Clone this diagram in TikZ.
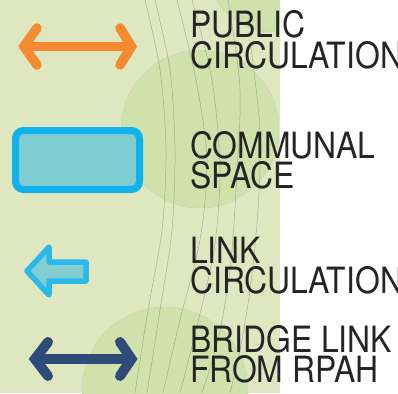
\documentclass[tikz,border=0pt]{standalone}
\usepackage{fontspec}
\newfontfamily\labfont[FakeStretch=0.88]{TeX Gyre Heros}
\definecolor{bggreen}{RGB}{223,231,192}
\definecolor{circgreen}{RGB}{208,225,172}
\definecolor{contour}{RGB}{150,160,135}
\definecolor{pubor}{RGB}{246,138,48}
\definecolor{commstroke}{RGB}{16,178,236}
\definecolor{commfill}{RGB}{127,205,208}
\definecolor{linkstroke}{RGB}{42,185,232}
\definecolor{linkfill}{RGB}{131,205,208}
\definecolor{bridgeblue}{RGB}{47,75,120}
\definecolor{txtcol}{RGB}{38,35,36}
\tikzset{
  legtext/.style={anchor=base west, inner sep=0pt, text=txtcol,
    font=\labfont\fontsize{36.2}{36}\selectfont},
  chevline/.style={line width=#1, line cap=round, line join=miter},
  contourline/.style={draw=contour, line width=0.5pt, opacity=0.8},
  blob/.style={fill=circgreen, draw=contour!60, line width=0.4pt, draw opacity=0.5}
}
\begin{document}
\begin{tikzpicture}[x=1pt,y=-1pt]
\useasboundingbox (0,0) rectangle (398,393);
\clip (0,0) rectangle (398,393);
% background
\fill[white] (0,0) rectangle (398,393);
\fill[bggreen] (0,0) rectangle (280,393);
\begin{scope}
\clip (0,0) rectangle (280,393);
\path[blob] (200,129) circle (79);
\path[blob] (165,390) circle (83);
\path[blob] (272,-32) circle (64);
\draw[contourline] plot[smooth] coordinates {(145,0) (160,70) (166,150) (162,230) (148,310) (135,393)};
\draw[contourline] plot[smooth] coordinates {(155,0) (170,70) (175,150) (172,230) (160,310) (147,393)};
\draw[contourline] plot[smooth] coordinates {(177,0) (196,80) (207,160) (200,240) (180,320) (163,393)};
\draw[contourline] plot[smooth] coordinates {(192,0) (212,80) (220,170) (214,250) (196,330) (180,393)};
\draw[contourline] plot[smooth] coordinates {(228,0) (240,90) (236,190) (230,270) (218,340) (202,393)};
\draw[contourline] plot[smooth] coordinates {(250,40) (260,130) (258,210) (250,290) (240,350) (230,393)};
\end{scope}
% public circulation arrow
\coordinate (pL) at (24,46.5);
\coordinate (pLa) at (37,28);
\coordinate (pLb) at (37,65);
\coordinate (pR) at (131.5,46.5);
\coordinate (pRa) at (120,28);
\coordinate (pRb) at (120,65);
\draw[pubor, chevline=9.5pt] (pLa) -- (pL) -- (pLb);
\draw[pubor, chevline=9.5pt] (pRa) -- (pR) -- (pRb);
\draw[pubor, line width=9.5pt] (pL) -- (pR);
% communal space box
\draw[commstroke, fill=commfill, line width=7pt, rounded corners=8pt] (15.5,130.5) rectangle (139.5,189.5);
% link circulation arrow
\draw[linkstroke, fill=linkfill, line width=5.5pt, line join=round]
  (27,271) -- (49,247) -- (49,262) -- (86,262) -- (86,281) -- (49,281) -- (49,295) -- cycle;
% bridge link arrow
\coordinate (bL) at (35,359);
\coordinate (bLa) at (48,342);
\coordinate (bLb) at (48,376);
\coordinate (bR) at (131.5,359);
\coordinate (bRa) at (120,342);
\coordinate (bRb) at (120,376);
\draw[bridgeblue, chevline=10pt] (bLa) -- (bL) -- (bLb);
\draw[bridgeblue, chevline=10pt] (bRa) -- (bR) -- (bRb);
\draw[bridgeblue, line width=10pt] (bL) -- (bR);
% labels
\node[legtext] (t1a) at (190,38) {PUBLIC};
\node[legtext] (t1b) at (190,68.5) {CIRCULATION};
\node[legtext] (t2a) at (190,158) {COMMUNAL};
\node[legtext] (t2b) at (190,188.5) {SPACE};
\node[legtext] (t3a) at (190,263) {LINK};
\node[legtext] (t3b) at (190,293) {CIRCULATION};
\node[legtext] (t4a) at (190,352) {BRIDGE LINK};
\node[legtext] (t4b) at (190,382) {FROM RPAH};
\end{tikzpicture}
\end{document}
